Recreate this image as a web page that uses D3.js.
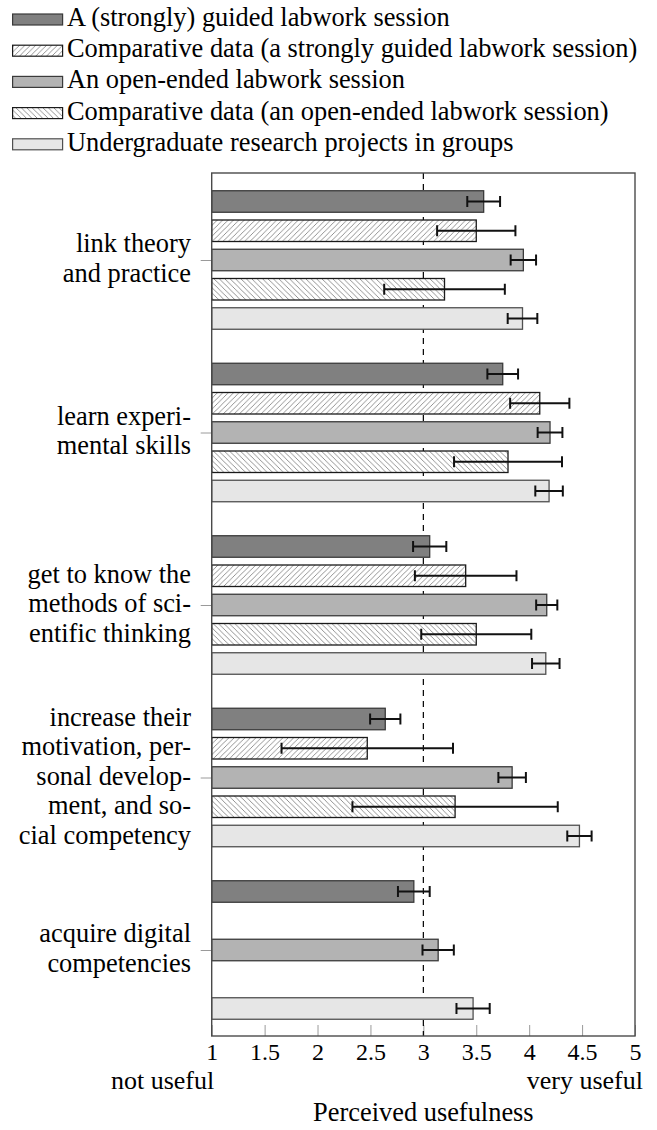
<!DOCTYPE html>
<html><head><meta charset="utf-8">
<script src="https://cdn.jsdelivr.net/npm/d3@7"></script>
<style>
body{margin:0;background:#fff;}
svg{display:block;}
text{font-family:"Liberation Serif","Times New Roman",serif;fill:#000;}
</style></head>
<body>
<script>
// ---- data ----
const categories = [
  ["link theory", "and practice"],
  ["learn experi-", "mental skills"],
  ["get to know the", "methods of sci-", "entific thinking"],
  ["increase their", "motivation, per-", "sonal develop-", "ment, and so-", "cial competency"],
  ["acquire digital", "competencies"]
];
const seriesNames = [
  "A (strongly) guided labwork session",
  "Comparative data (a strongly guided labwork session)",
  "An open-ended labwork session",
  "Comparative data (an open-ended labwork session)",
  "Undergraduate research projects in groups"
];
const guided        = [3.57, 3.75, 3.06, 2.64, 2.91];
const guidedErr     = [0.155, 0.145, 0.157, 0.143, 0.15];
const compGuided    = [3.50, 4.10, 3.40, 2.47, null];
const compGuidedErr = [0.37, 0.28, 0.48, 0.81, null];
const openEnded     = [3.945, 4.197, 4.166, 3.839, 3.14];
const openEndedErr  = [0.12, 0.117, 0.10, 0.13, 0.148];
const compOpen      = [3.20, 3.80, 3.50, 3.30, null];
const compOpenErr   = [0.57, 0.51, 0.52, 0.97, null];
const research      = [3.937, 4.188, 4.157, 4.475, 3.47];
const researchErr   = [0.14, 0.13, 0.13, 0.115, 0.157];
const xTicks = [1, 1.5, 2, 2.5, 3, 3.5, 4, 4.5, 5];
const xTickLabels = ["1", "1.5", "2", "2.5", "3", "3.5", "4", "4.5", "5"];
const xEndLabels = {1: "not useful", 5: "very useful"};
const xTitle = "Perceived usefulness";
const refValue = 3;

const seriesValues = [guided, compGuided, openEnded, compOpen, research];
const seriesErrors = [guidedErr, compGuidedErr, openEndedErr, compOpenErr, researchErr];

// ---- styles ----
const fills   = ["#808080", "url(#hatchNE)", "#b3b3b3", "url(#hatchNW)", "#e6e6e6"];
const strokes = ["#3a3a3a", "#1a1a1a", "#3a3a3a", "#1a1a1a", "#505050"];

const W = 657, H = 1130;
const pLeft = 211.7, pRight = 635, pTop = 173, pBottom = 1036;

const svg = d3.select("body").append("svg").attr("width", W).attr("height", H);
const defs = svg.append("defs");
function hatch(id, dir) {
  const p = defs.append("pattern").attr("id", id).attr("patternUnits", "userSpaceOnUse")
    .attr("width", 5.4).attr("height", 5.4);
  p.append("rect").attr("width", 5.4).attr("height", 5.4).attr("fill", "#fff");
  const d = dir > 0 ? "M-1,1 L1,-1 M0,5.4 L5.4,0 M4.4,6.4 L6.4,4.4" : "M-1,4.4 L1,6.4 M0,0 L5.4,5.4 M4.4,-1 L6.4,1";
  p.append("path").attr("d", d).attr("stroke", "#777").attr("stroke-width", 0.8);
}
hatch("hatchNE", 1);
hatch("hatchNW", -1);

function txt(g, x, y, s, anchor, size) {
  return g.append("text")
    .attr("x", x).attr("y", y)
    .attr("text-anchor", anchor)
    .style("font-size", size + "px")
    .text(s);
}

// ---- scales ----
const x = d3.scaleLinear().domain([1, 5]).range([pLeft, pRight]);
const y = d3.scalePoint().domain(d3.range(categories.length)).range([260, 950]);
const off = d3.scaleLinear().domain([0, 4]).range([-58.5, 58.5]);
const barH = 21.5;

// ---- legend ----
const leg = svg.append("g");
seriesNames.forEach((name, i) => {
  const base = 26 + i * 31.2;
  leg.append("rect").attr("x", 12.6).attr("y", base - 12).attr("width", 50).attr("height", 11)
    .attr("fill", fills[i]).attr("stroke", strokes[i]).attr("stroke-width", 1.2);
  txt(leg, 67, base, name, "start", 26.4);
});

const plot = svg.append("g");

// ---- x axis (inside ticks) ----
const xAxis = plot.append("g").attr("transform", `translate(0,${pBottom})`)
  .call(d3.axisBottom(x).tickValues(xTicks).tickSize(-11)
        .tickFormat((d, i) => xTickLabels[i]));
xAxis.select(".domain").remove();
xAxis.selectAll(".tick line").attr("stroke", "#9a9a9a").attr("stroke-width", 1);
xAxis.selectAll(".tick text")
  .attr("y", 24).attr("dy", 0)
  .style("font-size", "24px").style("font-family", "'Liberation Serif', serif").attr("fill", "#000");

// end descriptors under the first and last tick
Object.keys(xEndLabels).forEach(k => {
  const v = +k;
  txt(plot, v === 1 ? x(v) + 2.5 : x(v) + 8, 1088.5, xEndLabels[k], "end", 26);
});

// ---- y axis (outside ticks, no labels) ----
const yAxis = plot.append("g").attr("transform", `translate(${pLeft},0)`)
  .call(d3.axisLeft(y).tickSize(11).tickFormat(""));
yAxis.select(".domain").remove();
yAxis.selectAll(".tick line").attr("stroke", "#9a9a9a").attr("stroke-width", 1);

// dashed reference line
plot.append("line").attr("x1", x(refValue)).attr("x2", x(refValue))
  .attr("y1", pTop).attr("y2", pBottom)
  .attr("stroke", "#000").attr("stroke-width", 1.2).attr("stroke-dasharray", "6,5");

// bars
seriesValues.forEach((vals, s) => {
  const g = plot.append("g");
  vals.forEach((v, c) => {
    if (v == null) return;
    const cy = y(c) + off(s);
    g.append("rect").attr("x", x(1)).attr("y", cy - barH / 2)
      .attr("width", x(v) - x(1)).attr("height", barH)
      .attr("fill", fills[s]).attr("stroke", strokes[s]).attr("stroke-width", 1.3);
  });
});
// error bars
seriesValues.forEach((vals, s) => {
  const g = plot.append("g").attr("stroke", "#111").attr("stroke-width", 2);
  vals.forEach((v, c) => {
    if (v == null) return;
    const e = seriesErrors[s][c];
    const cy = y(c) + off(s);
    g.append("line").attr("x1", x(v - e)).attr("x2", x(v + e)).attr("y1", cy).attr("y2", cy);
    [v - e, v + e].forEach(t => g.append("line").attr("x1", x(t)).attr("x2", x(t))
      .attr("y1", cy - 5.5).attr("y2", cy + 5.5));
  });
});

// frame
plot.append("rect").attr("x", pLeft).attr("y", pTop).attr("width", pRight - pLeft).attr("height", pBottom - pTop)
  .attr("fill", "none").attr("stroke", "#4a4a4a").attr("stroke-width", 1.4);

// axis title
txt(plot, (pLeft + pRight) / 2, 1121, xTitle, "middle", 26.4);

// category labels
categories.forEach((lines, c) => {
  const lh = 29.5;
  const first = y(c) + 7 - (lines.length - 1) * lh / 2;
  lines.forEach((ln, k) => txt(plot, 191, first + k * lh, ln, "end", 26.4));
});
</script>
</body></html>
